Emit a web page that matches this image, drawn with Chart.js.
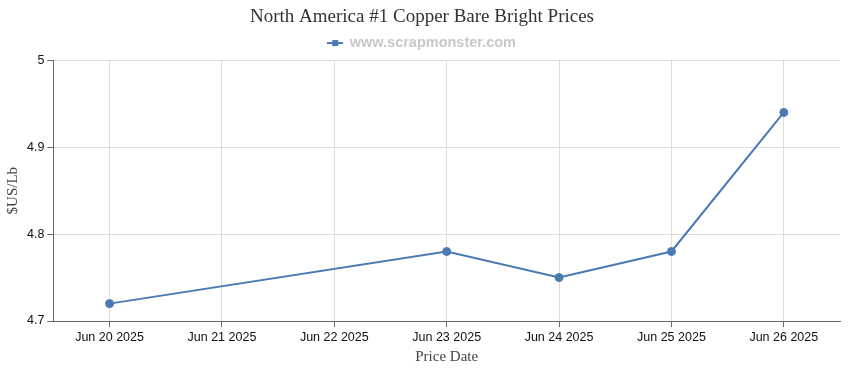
<!DOCTYPE html>
<html>
<head>
<meta charset="utf-8">
<script src="https://cdn.jsdelivr.net/npm/chart.js@4"></script>
<style>
  body { margin: 0; background: #fff; }
  #wrap { width: 850px; height: 370px; }
</style>
</head>
<body>
<div id="wrap"><canvas id="priceChart"></canvas></div>
<script>
// Price dates (category axis) and prices, null where no quote
const dates = ["Jun 20 2025", "Jun 21 2025", "Jun 22 2025", "Jun 23 2025", "Jun 24 2025", "Jun 25 2025", "Jun 26 2025"];
const prices = [4.72, null, null, 4.78, 4.75, 4.78, 4.94];
const yTicks = [4.7, 4.8, 4.9, 5];

const lineColor = "#4a7ab4";

// legend marker: short line with a square in the middle
const marker = document.createElement("canvas");
marker.width = 16; marker.height = 8;
const mctx = marker.getContext("2d");
mctx.fillStyle = lineColor;
mctx.fillRect(0, 3, 16, 2);
mctx.fillRect(5, 1, 6, 6);

const ctx = document.getElementById("priceChart").getContext("2d");

new Chart(ctx, {
    type: "line",
    data: {
        labels: dates,
        datasets: [{
            label: "www.scrapmonster.com",
            data: prices,
            borderColor: lineColor,
            backgroundColor: lineColor,
            borderWidth: 2,
            pointRadius: 4,
            pointBorderWidth: 1,
            pointHoverRadius: 5,
            spanGaps: true,
            tension: 0
        }]
    },
    options: {
        responsive: true,
        maintainAspectRatio: false,
        animation: false,
        layout: { padding: { left: 4, right: 10, top: 4, bottom: 4 } },
        plugins: {
            title: {
                display: true,
                text: "North America #1 Copper Bare Bright Prices",
                color: "#333",
                font: { family: "Liberation Serif", size: 19, weight: "normal" },
                padding: { top: 2, bottom: 2 }
            },
            legend: {
                labels: {
                    usePointStyle: true,
                    pointStyle: marker,
                    color: "#c8c8c8",
                    font: { family: "Liberation Sans", size: 14.5, weight: "bold" },
                    padding: 5
                }
            },
            tooltip: { enabled: false }
        },
        scales: {
            x: {
                offset: true,
                grid: { color: "#dddddd", offset: false, tickLength: 6, tickColor: "#666" },
                border: { color: "#666" },
                ticks: { color: "#111", font: { family: "Liberation Sans", size: 12.5 }, maxRotation: 0, padding: 3 },
                title: {
                    display: true,
                    text: "Price Date",
                    color: "#444",
                    font: { family: "Liberation Serif", size: 15 },
                    padding: { top: 0, bottom: 0 }
                }
            },
            y: {
                min: 4.7,
                max: 5,
                afterBuildTicks: function (axis) {
                    axis.ticks = yTicks.map(v => ({ value: v }));
                },
                grid: { color: "#dddddd", tickLength: 6, tickColor: "#666" },
                border: { color: "#666" },
                ticks: {
                    color: "#111",
                    font: { family: "Liberation Sans", size: 12.5 },
                    padding: 3,
                    callback: v => String(Math.round(v * 10) / 10)
                },
                title: {
                    display: true,
                    text: "$US/Lb",
                    color: "#444",
                    font: { family: "Liberation Serif", size: 15 },
                    padding: { top: 0, bottom: 2 }
                }
            }
        }
    }
});
</script>
</body>
</html>
